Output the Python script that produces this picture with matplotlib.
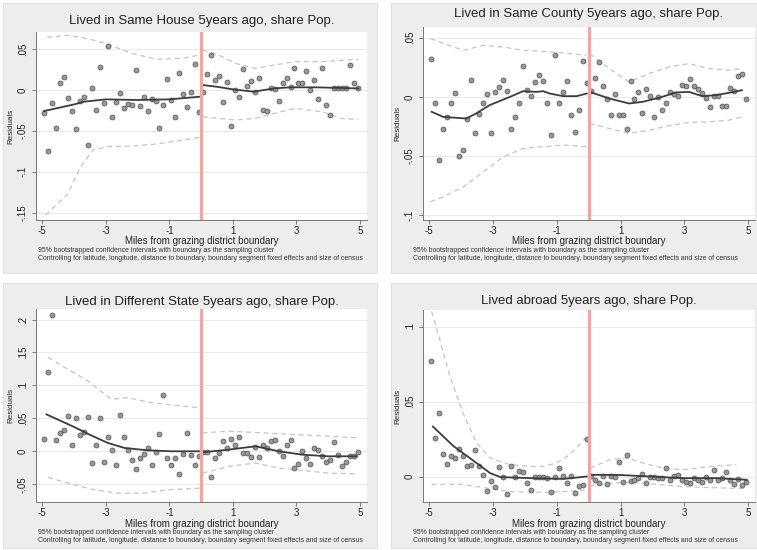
import numpy as np
import matplotlib
matplotlib.use("Agg")
import matplotlib.pyplot as plt

plt.rcParams['font.family'] = ['Liberation Sans', 'DejaVu Sans']

W, H = 757, 550

# bin centres (0.125 mile bins on each side of the boundary)
bins_left = np.arange(-4.9375, 0, 0.125)
bins_right = np.arange(0.0625, 5, 0.125)

titles = ["Lived in Same House 5years ago, share Pop.",
          "Lived in Same County 5years ago, share Pop.",
          "Lived in Different State 5years ago, share Pop.",
          "Lived abroad 5years ago, share Pop."]
xlabel = "Miles from grazing district boundary"
ylabel = "Residuals"
note1 = "95% bootstrapped confidence intervals with boundary as the sampling cluster"
note2 = ("Controlling for latitude, longitude, distance to boundary, boundary segment "
         "fixed effects and size of census")
xticks = [-5, -3, -1, 1, 3, 5]

# ---- panel 1: same house
house_left = [-0.0286, -0.0747, -0.0155, -0.0461, 0.009, 0.0155, -0.0094, -0.0257, -0.048, -0.0135,
              -0.0082, -0.067, 0.002, -0.0245, 0.0286, -0.0155, 0.054, -0.0335, -0.0143, -0.004,
              -0.0216, -0.0171, -0.0184, 0.0245, -0.0196, -0.0082, -0.0257, -0.011, -0.013, -0.047,
              -0.0184, 0.013, -0.0122, -0.0335, 0.021, -0.0053, -0.0204, -0.0029, 0.0318, -0.0269]
house_right = [-0.002, 0.0196, 0.0429, 0.0122, 0.0171, -0.0143, 0.0102, -0.044, 0.0, -0.009,
               0.0257, 0.0049, 0.0114, -0.002, 0.0147, -0.0245, -0.0253, 0.002, 0.0008, -0.013,
               0.009, 0.0147, 0.004, 0.0265, 0.0082, 0.009, 0.0229, 0.0, 0.0122, -0.0106,
               0.0273, -0.0184, -0.0306, 0.002, 0.0024, 0.0029, 0.002, 0.0306, 0.009, 0.002]
house_fit_l = ([-4.95, -4.0, -3.7, -3.0, -2.0, -1.0, -0.05],
               [-0.0257, -0.0176, -0.0143, -0.0114, -0.0122, -0.0114, -0.0082])
house_fit_r = ([0.05, 0.5, 1.0, 1.65, 2.3, 2.8, 3.6, 4.95],
               [0.0061, 0.004, 0.0008, -0.002, 0.002, 0.0033, 0.0033, 0.002])
house_hi_l = ([-4.85, -4.2, -3.6, -3.0, -2.2, -1.4, -0.55, -0.05],
              [0.0645, 0.067, 0.063, 0.057, 0.045, 0.0376, 0.039, 0.043])
house_lo_l = ([-4.9, -4.2, -3.8, -3.4, -2.9, -2.2, -1.4, -0.55, -0.05],
              [-0.153, -0.127, -0.094, -0.073, -0.069, -0.0686, -0.066, -0.061, -0.058])
house_hi_r = ([0.05, 0.55, 1.07, 1.7, 2.3, 2.95, 3.8, 4.95],
              [0.049, 0.043, 0.0327, 0.0265, 0.0306, 0.0347, 0.0347, 0.0376])
house_lo_r = ([0.05, 0.55, 1.07, 1.7, 2.3, 2.95, 3.8, 4.4, 4.95],
              [-0.0327, -0.0347, -0.0367, -0.0347, -0.0286, -0.0224, -0.0265, -0.0347, -0.036])

# ---- panel 2: same county
county_left = [0.0318, -0.0056, -0.0534, -0.0273, -0.0169, -0.0051, 0.0034, -0.0497, -0.045, -0.0191,
               0.0146, -0.0303, -0.0146, -0.0051, 0.002, -0.0303, 0.0042, 0.0084, 0.0146, 0.0051,
               -0.0273, -0.0169, -0.0051, 0.0258, 0.0062, 0.0006, 0.0126, 0.0183, 0.0135, -0.0056,
               -0.0323, 0.0351, -0.0051, 0.0042, 0.0135, -0.0149, -0.0295, -0.0107, 0.0303, 0.0118]
county_right = [0.0048, 0.016, 0.0295, 0.009, -0.0022, -0.0155, 0.002, -0.0155, -0.0155, -0.0273,
                0.0132, -0.002, 0.0042, -0.0135, 0.0065, 0.0008, -0.0174, 0.0, -0.0112, -0.0056,
                0.0042, 0.0028, 0.0008, 0.0104, 0.009, 0.0155, 0.009, 0.007, 0.0034, -0.0008,
                -0.0084, 0.0006, 0.0006, -0.0079, -0.0079, 0.0076, 0.0048, 0.0177, 0.0194, -0.0014]
county_fit_l = ([-4.93, -4.57, -4.15, -3.84, -3.53, -3.11, -2.47, -2.06, -1.64, -1.43, -1.22, -0.8, -0.38, -0.06],
                [-0.0126, -0.0169, -0.0177, -0.0183, -0.014, -0.007, 0.0, 0.0048, 0.0042, 0.0048, 0.0028, 0.0006, 0.0006, 0.0028])
county_fit_r = ([0.03, 0.65, 1.27, 1.69, 2.21, 2.73, 3.15, 3.56, 3.98, 4.4, 4.81],
                [0.0042, -0.0014, -0.0056, -0.0042, -0.0008, 0.0037, 0.0042, 0.0006, 0.0014, 0.0034, 0.0056])
county_hi_l = ([-4.97, -4.55, -3.93, -3.3, -2.68, -2.06, -1.43, -0.81, -0.08],
               [0.0492, 0.045, 0.0393, 0.0435, 0.0421, 0.0393, 0.0385, 0.0371, 0.0351])
county_lo_l = ([-4.97, -4.55, -3.93, -3.3, -2.68, -2.06, -1.43, -0.81, -0.08],
               [-0.0885, -0.0843, -0.0759, -0.0632, -0.0506, -0.0435, -0.0421, -0.0407, -0.0421])
county_hi_r = ([0.03, 0.65, 1.27, 1.9, 2.52, 3.15, 3.77, 4.4, 4.81],
               [0.0365, 0.0239, 0.0126, 0.0197, 0.0253, 0.0281, 0.0239, 0.0225, 0.0239])
county_lo_r = ([0.03, 0.65, 1.27, 1.9, 2.52, 3.15, 3.77, 4.4, 4.81],
               [-0.0225, -0.0267, -0.0309, -0.0281, -0.0244, -0.0216, -0.0211, -0.0197, -0.0169])

# ---- panel 3: different state
state_left = [0.0188, 0.1196, 0.207, 0.0178, 0.028, 0.032, 0.0534, 0.0102, 0.0504, 0.0254,
              0.029, 0.0519, -0.0178, 0.0097, 0.0499, -0.0168, 0.0214, 0.0025, -0.0209, 0.055,
              0.0214, 0.0015, -0.0137, -0.0265, -0.0097, -0.0041, 0.0051, -0.0204, -0.001, 0.026,
              0.0855, -0.0107, -0.0209, -0.0097, -0.0351, -0.0041, 0.027, -0.0051, -0.0209, -0.0076]
state_right = [-0.0015, -0.0015, -0.0397, -0.0102, -0.0025, 0.0163, 0.0051, 0.0188, 0.0092, 0.0214,
               -0.0025, -0.0025, -0.0092, 0.0066, -0.0087, 0.0102, 0.0051, 0.0153, 0.0178, 0.0,
               -0.0066, 0.0092, 0.0178, -0.0254, -0.0193, 0.001, -0.0102, -0.0193, 0.0051, 0.0025,
               -0.0076, -0.0168, -0.0127, 0.0137, -0.0061, -0.0219, -0.0158, -0.0076, -0.0076, -0.0015]
state_fit_l = ([-4.87, -3.99, -3.52, -2.94, -2.42, -1.69, -0.96, -0.02],
               [0.056, 0.0367, 0.0254, 0.0127, 0.0051, 0.0015, 0.0, 0.0])
state_fit_r = ([0.04, 0.87, 1.71, 2.44, 3.17, 4.0, 4.9],
               [-0.0015, 0.0025, 0.0076, 0.0, -0.0051, -0.0076, -0.0076])
state_hi_l = ([-4.82, -4.2, -3.57, -2.84, -2.31, -1.58, -0.85, -0.05],
              [0.1425, 0.1247, 0.1069, 0.0789, 0.0814, 0.0738, 0.0697, 0.0662])
state_lo_l = ([-4.82, -4.2, -3.46, -2.63, -1.79, -1.06, -0.05],
              [-0.0397, -0.0483, -0.0575, -0.0636, -0.0636, -0.0585, -0.056])
state_hi_r = ([0.04, 0.87, 1.92, 2.96, 4.0, 4.9],
              [0.028, 0.0305, 0.028, 0.0254, 0.0229, 0.0204])
state_lo_r = ([0.04, 0.87, 1.71, 2.44, 3.17, 4.0, 4.9],
              [-0.0331, -0.0229, -0.0178, -0.0254, -0.029, -0.0331, -0.0341])

# ---- panel 4: abroad
abroad_left = [0.0769, 0.0258, 0.0422, 0.0151, 0.0083, 0.0135, 0.0124, 0.0184, 0.0135, 0.0067,
               0.0079, 0.0175, 0.0067, 0.0011, -0.0094, -0.0029, -0.0072, 0.0061, -0.0004, -0.0119,
               0.0072, 0.0, 0.0038, 0.0027, -0.004, -0.009, 0.0, -0.0004, -0.0004, -0.0011,
               -0.0101, -0.0004, 0.0056, 0.0004, -0.004, 0.0004, -0.0108, -0.0063, -0.0056, 0.0247]
abroad_right = [0.0004, -0.0022, -0.004, 0.0004, -0.0049, 0.0004, 0.0, 0.0094, -0.0034, 0.0144,
                -0.0027, -0.0022, -0.0011, 0.0018, -0.004, 0.0, 0.0, -0.0011, -0.0011, 0.0056,
                -0.0022, 0.0004, 0.0011, -0.0022, -0.0034, -0.004, -0.0011, -0.0022, -0.0034, 0.0,
                -0.0022, 0.0045, -0.0022, -0.0011, 0.0027, -0.0022, -0.0049, -0.0018, -0.0056, -0.0034]
abroad_fit_l = ([-4.89, -4.24, -3.66, -3.09, -2.77, -1.83, -0.79, -0.06],
                [0.0333, 0.0202, 0.0112, 0.0022, -0.0004, -0.0011, -0.0016, 0.0])
abroad_fit_r = ([0.05, 0.88, 1.93, 2.97, 4.02, 4.96],
                [0.0011, 0.0011, 0.0, -0.0011, -0.0011, -0.0022])
abroad_hi_l = ([-4.93, -4.67, -4.35, -3.93, -3.52, -3.1, -2.47, -1.84, -1.43, -1.01, -0.59, -0.28, -0.1],
               [0.110, 0.091, 0.0663, 0.0416, 0.0225, 0.0124, 0.0079, 0.0067, 0.0067, 0.009, 0.0146, 0.0213, 0.0258])
abroad_lo_l = ([-4.93, -4.04, -3.52, -2.47, -1.43, -0.8, -0.1],
               [-0.0052, -0.0052, -0.0067, -0.0101, -0.0106, -0.0101, -0.009])
abroad_hi_r = ([0.04, 0.66, 1.19, 1.71, 2.34, 2.96, 3.8, 4.32, 4.63],
               [0.0056, 0.0112, 0.0124, 0.009, 0.0056, 0.0045, 0.0067, 0.0074, 0.0079])
abroad_lo_r = ([0.04, 0.66, 1.29, 2.13, 2.96, 3.8, 4.63, 4.95],
               [-0.0061, -0.0045, -0.0038, -0.0052, -0.0067, -0.0074, -0.0079, -0.0079])

yticks = [[-0.15, -0.1, -0.05, 0, 0.05],
          [-0.1, -0.05, 0, 0.05],
          [-0.05, 0, 0.05, 0.1, 0.15, 0.2],
          [0, 0.05, 0.1]]
ytick_labels = [['-.15', '-.1', '-.05', '0', '.05'],
                ['-.1', '-.05', '0', '.05'],
                ['-.05', '0', '.05', '.1', '.15', '.2'],
                ['0', '.05', '.1']]
ylims = [(-0.159, 0.071), (-0.104, 0.059), (-0.077, 0.216), (-0.017, 0.111)]

panels = [
    (house_left, house_right, house_fit_l, house_fit_r, house_hi_l, house_lo_l, house_hi_r, house_lo_r),
    (county_left, county_right, county_fit_l, county_fit_r, county_hi_l, county_lo_l, county_hi_r, county_lo_r),
    (state_left, state_right, state_fit_l, state_fit_r, state_hi_l, state_lo_l, state_hi_r, state_lo_r),
    (abroad_left, abroad_right, abroad_fit_l, abroad_fit_r, abroad_hi_l, abroad_lo_l, abroad_hi_r, abroad_lo_r),
]

# layout in pixels: panel box, plot box (left, top, right, bottom), title y, xlabel y, notes y
layout = [
    dict(panel=(3, 3, 377, 273), plot=(36, 32, 367, 220), title=21, xlab=241, notes=(251, 258), nx=38),
    dict(panel=(391, 3, 757, 273), plot=(423, 27, 755, 220), title=14, xlab=241, notes=(251, 258), nx=413),
    dict(panel=(3, 283, 377, 548), plot=(36, 309, 367, 502), title=302, xlab=524, notes=(533, 540), nx=38),
    dict(panel=(391, 283, 757, 548), plot=(423, 310, 755, 502), title=301, xlab=524, notes=(533, 540), nx=413),
]


def box(l, t, r, b):
    return [l / W, 1 - b / H, (r - l) / W, (b - t) / H]


fig = plt.figure(figsize=(W / 100, H / 100), dpi=100)
fig.patch.set_facecolor('white')

for i, (data, lay) in enumerate(zip(panels, layout)):
    yl, yr, fl, fr, hl, ll, hr, lr = data
    bg = fig.add_axes(box(*lay['panel']))
    bg.set_facecolor('#ededed')
    bg.set_xticks([])
    bg.set_yticks([])
    for s in bg.spines.values():
        s.set_color('#dddddd')
        s.set_linewidth(0.6)
    bg.set_xlim(lay['panel'][0], lay['panel'][2])
    bg.set_ylim(lay['panel'][3], lay['panel'][1])
    pl, pt, pr, pb = lay['plot']
    bg.text((pl + pr) / 2, lay['title'], titles[i], ha='center', va='center', fontsize=9.5, color='#222222')
    bg.text((pl + pr) / 2, lay['xlab'], xlabel, ha='center', va='center', fontsize=7, color='#222222')
    bg.text(lay['nx'], lay['notes'][0], note1, ha='left', va='center', fontsize=4.95, color='#333333', clip_on=True)
    bg.text(lay['nx'], lay['notes'][1], note2, ha='left', va='center', fontsize=4.95, color='#333333', clip_on=True)

    ax = fig.add_axes(box(*lay['plot']))
    ax.set_facecolor('white')
    ax.set_xlim(-5.2, 5.22)
    ax.set_ylim(*ylims[i])
    ax.set_yticks(yticks[i])
    ax.set_yticklabels(ytick_labels[i], rotation=90, va='center')
    ax.set_xticks(xticks)
    ax.set_xticklabels([str(t) for t in xticks])
    ax.tick_params(labelsize=7, length=3, width=0.6, color='#666666', labelcolor='#222222')
    ax.tick_params(axis='y', pad=3)
    ax.tick_params(axis='x', pad=1.5)
    ax.grid(axis='y', color='#e4e4e4', linewidth=0.6)
    ax.set_axisbelow(True)
    for s in ['top', 'right']:
        ax.spines[s].set_visible(False)
    for s in ['left', 'bottom']:
        ax.spines[s].set_color('#777777')
        ax.spines[s].set_linewidth(0.7)
    ax.set_ylabel(ylabel, fontsize=5.8, color='#222222')
    ax.yaxis.set_label_coords(-0.064, 0.5)

    ax.plot(hl[0], hl[1], ls=(0, (4, 3)), color='#c4c4c4', lw=0.9)
    ax.plot(ll[0], ll[1], ls=(0, (4, 3)), color='#c4c4c4', lw=0.9)
    ax.plot(hr[0], hr[1], ls=(0, (4, 3)), color='#c4c4c4', lw=0.9)
    ax.plot(lr[0], lr[1], ls=(0, (4, 3)), color='#c4c4c4', lw=0.9)
    ax.plot(bins_left, yl, 'o', ms=3.5, mfc='#9a9a9a', mec='#5a5a5a', mew=0.6)
    ax.plot(bins_right, yr, 'o', ms=3.5, mfc='#9a9a9a', mec='#5a5a5a', mew=0.6)
    ax.plot(fl[0], fl[1], color='#3c3c3c', lw=1.3)
    ax.plot(fr[0], fr[1], color='#3c3c3c', lw=1.3)
    ax.axvline(0, color='#f5a3a3', lw=2.3)

fig.savefig('out.png', dpi=100)
